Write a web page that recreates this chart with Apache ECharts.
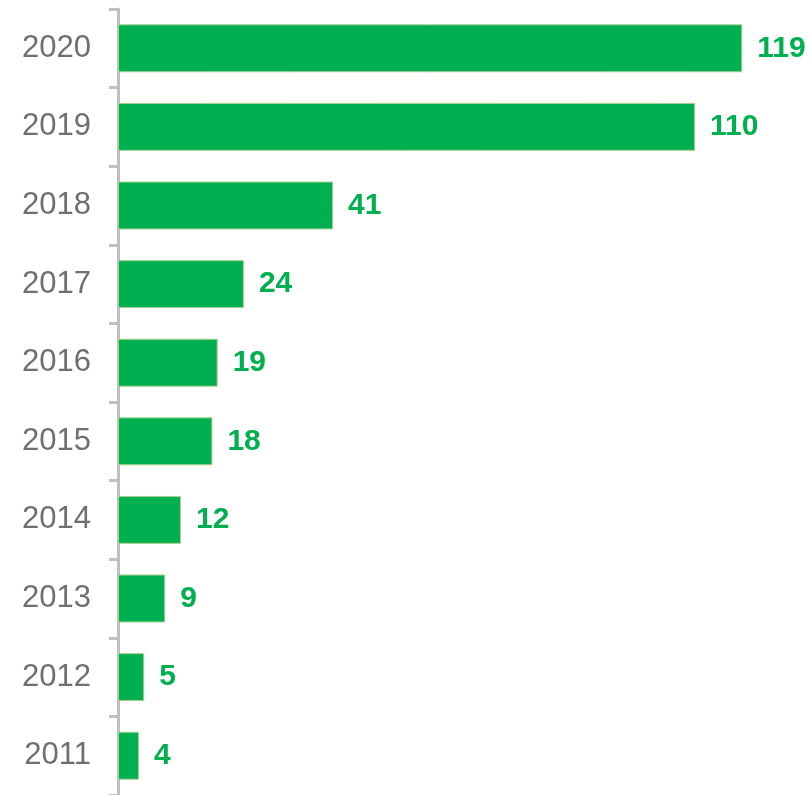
<!DOCTYPE html>
<html>
<head>
<meta charset="utf-8">
<style>
  html, body { margin: 0; padding: 0; background: #fff; }
  #main { width: 812px; height: 795px; }
</style>
<script src="https://cdn.jsdelivr.net/npm/echarts@6/dist/echarts.min.js"></script>
</head>
<body>
<div id="main"></div>
<script>
const years = ['2011', '2012', '2013', '2014', '2015', '2016', '2017', '2018', '2019', '2020']
const counts = [4, 5, 9, 12, 18, 19, 24, 41, 110, 119]

let myChart = echarts.init(document.getElementById('main'))

let options = {
    animation: false,
    grid: { left: 118, top: 9, bottom: 0, width: 682 },
    xAxis: {
        type: 'value',
        min: 0,
        max: 130,
        show: false
    },
    yAxis: {
        type: 'category',
        data: years,
        axisLine: { show: true, lineStyle: { color: '#bfbfbf', width: 3 } },
        axisTick: { show: true, length: 9, lineStyle: { color: '#bfbfbf', width: 3 } },
        axisLabel: {
            color: '#6f6f6f',
            fontSize: 31,
            fontFamily: 'Liberation Sans, Arial, sans-serif',
            margin: 27
        }
    },
    series: [{
        type: 'bar',
        data: counts,
        barCategoryGap: '39%',
        itemStyle: { color: '#00b050', borderColor: '#a9d18e', borderWidth: 1 },
        label: {
            show: true,
            position: 'right',
            distance: 15,
            color: '#00b050',
            fontSize: 30,
            fontWeight: 'bold',
            fontFamily: 'Liberation Sans, Arial, sans-serif'
        }
    }]
}

myChart.setOption(options)
</script>
</body>
</html>
